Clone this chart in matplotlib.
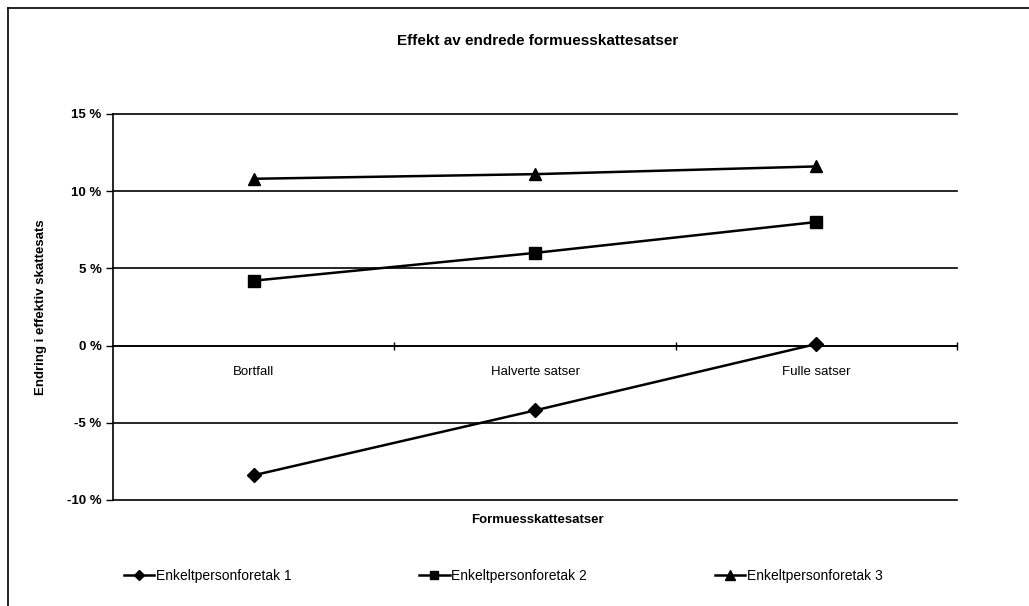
import numpy as np
import matplotlib
matplotlib.use("Agg")
import matplotlib.pyplot as plt
from matplotlib.lines import Line2D
from matplotlib.ticker import FuncFormatter

plt.rcParams['font.family'] = ['Liberation Sans', 'DejaVu Sans']

# Data
categories = ['Bortfall', 'Halverte satser', 'Fulle satser']
series_names = ['Enkeltpersonforetak 1', 'Enkeltpersonforetak 2', 'Enkeltpersonforetak 3']
foretak1 = [-8.4, -4.2, 0.1]
foretak2 = [4.2, 6.0, 8.0]
foretak3 = [10.8, 11.1, 11.6]
yticks = [-10, -5, 0, 5, 10, 15]

fig = plt.figure(figsize=(10.29, 6.06), dpi=100)
ax = fig.add_axes([0.110, 0.175, 0.820, 0.637])

x = np.arange(len(categories))
markers = ['D', 's', '^']
sizes = [7, 8, 9]
for vals, name, m, s in zip([foretak1, foretak2, foretak3], series_names, markers, sizes):
    ax.plot(x, vals, color='black', lw=1.8, marker=m, markersize=s, label=name, zorder=3)

ax.set_xlim(-0.5, 2.5)
ax.set_ylim(-10, 15)
ax.set_yticks(yticks)
ax.yaxis.set_major_formatter(FuncFormatter(lambda v, p: '%d %%' % v))
ax.grid(axis='y', color='black', lw=1.2)
ax.set_axisbelow(True)
for gl in ax.yaxis.get_gridlines():
    gl.set_clip_on(False)

for side in ['top', 'right']:
    ax.spines[side].set_visible(False)
ax.spines['bottom'].set_position(('data', 0))
ax.spines['bottom'].set_linewidth(1.2)
ax.spines['left'].set_linewidth(1.2)

ax.set_xticks(x)
ax.set_xticklabels(categories, fontsize=9.5)
ax.tick_params(axis='x', which='major', length=0, pad=15)
ax.set_xticks([0.5, 1.5, 2.5], minor=True)
ax.tick_params(axis='x', which='minor', length=6, direction='inout', width=1)
ax.tick_params(axis='y', length=5, direction='out', labelsize=9.5, width=1)
for lbl in ax.get_yticklabels():
    lbl.set_fontweight('bold')

ax.set_ylabel('Endring i effektiv skattesats', fontsize=9.5, fontweight='bold', labelpad=14)
fig.text(0.522, 0.142, 'Formuesskattesatser', ha='center', va='center', fontsize=9.5, fontweight='bold')
fig.text(0.522, 0.933, 'Effekt av endrede formuesskattesatser', ha='center', va='center', fontsize=11, fontweight='bold')

handles, labels = ax.get_legend_handles_labels()
leg = fig.legend(handles, labels, loc='center left', bbox_to_anchor=(0.108, 0.05), ncol=3,
                 frameon=False, fontsize=10, handlelength=2.2, handletextpad=0.1,
                 columnspacing=9.2, markerscale=0.8)

# outer chart border (scanned page edge)
fig.add_artist(Line2D([0.008, 1.0], [0.987, 0.987], transform=fig.transFigure, color='black', lw=1.2))
fig.add_artist(Line2D([0.008, 0.008], [0.0, 0.987], transform=fig.transFigure, color='black', lw=1.2))

fig.savefig('out.png', dpi=100)
